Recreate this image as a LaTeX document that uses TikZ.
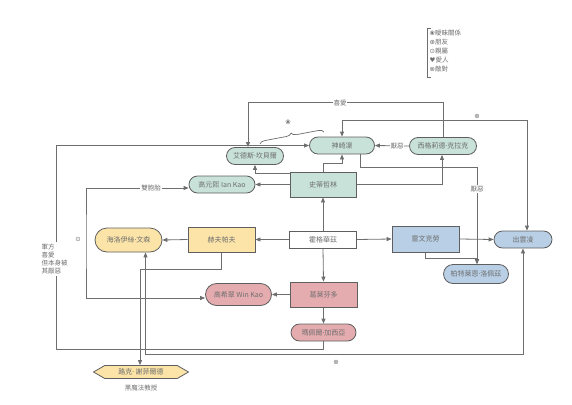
\documentclass[tikz,border=0pt]{standalone}
\usepackage{fontspec}
\setmainfont{Noto Sans CJK TC}
\newfontfamily\symf{DejaVu Sans}
\usetikzlibrary{shapes.misc,shapes.symbols,arrows.meta,backgrounds,decorations.pathreplacing}
\definecolor{cTeal}{RGB}{200,226,217}
\definecolor{cYel}{RGB}{252,228,168}
\definecolor{cBlu}{RGB}{184,207,229}
\definecolor{cPnk}{RGB}{229,172,176}
\definecolor{bd}{RGB}{95,95,95}
\definecolor{lc}{RGB}{110,110,110}
\definecolor{tx}{RGB}{110,110,110}
\newcommand\nfont{\fontsize{7pt}{8pt}\selectfont}
\newcommand\lfont{\fontsize{6.5pt}{8pt}\selectfont}
\newcommand\mdot{{\symf\kern-0.3pt·\kern-0.3pt}}
\begin{document}
\begin{tikzpicture}[x=1pt,y=-1pt,
 ln/.style={draw=lc,line width=0.8pt},
 arr/.style={ln,-{Triangle[length=5pt,width=4pt]}},
 arr2/.style={ln,{Triangle[length=5pt,width=4pt]}-{Triangle[length=5pt,width=4pt]}},
 nd/.style={draw=bd,line width=0.8pt,text=tx,font=\nfont,inner sep=1pt},
 box/.style={nd,rectangle},
 pill/.style={nd,rounded rectangle},
 lbl/.style={fill=white,text=tx,font=\lfont,inner sep=0.8pt},
 free/.style={text=tx,font=\lfont,inner sep=0.5pt}]
\useasboundingbox (0,0) rectangle (572,404);
% houses
\node[box,fill=cTeal,minimum width=66pt,minimum height=25pt] (sl) at (323,184.5) {史蒂哲林};
\node[box,fill=white,minimum width=67pt,minimum height=17pt] (hw) at (323,239.5) {霍格華茲};
\node[box,fill=cYel,minimum width=67pt,minimum height=25pt] (hf) at (221.5,239.5) {赫夫帕夫};
\node[box,fill=cBlu,minimum width=67pt,minimum height=26pt] (rc) at (425.5,239) {雷文克勞};
\node[box,fill=cPnk,minimum width=67pt,minimum height=25pt] (gr) at (323.5,294.5) {葛萊芬多};
% people
\node[pill,fill=cTeal,minimum width=67pt,minimum height=17pt] (kz) at (342,145.5) {神崎凜};
\node[pill,fill=cTeal,minimum width=59pt,minimum height=17pt] (ed) at (255,156) {艾德斯\mdot 坎貝爾};
\node[pill,fill=cTeal,minimum width=69pt,minimum height=17pt] (sg) at (443,146) {西格莉德\mdot 克拉克};
\node[pill,fill=cTeal,minimum width=68pt,minimum height=17pt] (ik) at (222,184.5) {高元熙 Ian Kao};
\node[pill,fill=cYel,minimum width=69pt,minimum height=24pt] (hl) at (128.5,240) {海洛伊絲\mdot 文森};
\node[pill,fill=cBlu,minimum width=60pt,minimum height=17pt] (iz) at (523,239.5) {出雲凌};
\node[pill,fill=cBlu,minimum width=67pt,minimum height=19pt] (bt) at (476,274) {柏特萊恩\mdot 洛佩茲};
\node[pill,fill=cPnk,minimum width=68pt,minimum height=22pt] (wk) at (238.5,294.5) {高希翠 Win Kao};
\node[pill,fill=cPnk,minimum width=67pt,minimum height=17pt] (mp) at (323.5,332.5) {瑪佩爾\mdot 加西亞};
\node[nd,signal,signal to=west and east,signal pointer angle=60,fill=cYel,minimum width=95pt,minimum height=13pt,inner sep=0.5pt] (lk) at (141,372) {路克\mdot\ 謝菲爾德};
\node[free] (lkl) at (141,388) {黑魔法教授};
% corner coordinates
\coordinate (lft) at (56,145.5);
\coordinate (twc) at (86,240);
\begin{scope}[on background layer]
\draw[arr] (hw.north) -- (sl.south);
\draw[arr] (hw.south) -- (gr.north);
\draw[arr] (hw.east) -- (rc.west);
\draw[arr] (hw.west) -- (hf.east);
\draw[arr] (sl.west) -- (ik.east);
\draw[arr] (hf.west) -- (hl.east);
\draw[arr] (rc.east) -- (iz.west);
\draw[arr] (gr.west) -- (wk.east);
\draw[arr] (gr.south) -- (mp.north);
\draw[arr] (sl.north) -- ++(0,-8) -| (kz.south);
\draw[arr] ([yshift=-1.5pt]sl.north west) -| (ed.south);
\draw[arr] (sg.west) -- (kz.east);
\draw[arr] (sg.north) -- ++(0,-34.5) -| ([xshift=-7pt]ed.north);
\draw[arr2] (kz.north) -- ++(0,-16.5) -| ([xshift=4pt]iz.north);
\draw[arr] ([xshift=18pt]kz.south) -- ++(0,13) -| ([xshift=1pt]bt.north);
\draw[arr] (rc.south) -- ++(0,6) -| ([xshift=1pt]bt.north);
\draw[arr] (sl.east) -| ([xshift=-1pt]sg.south);
\draw[arr] (mp.south) -- ++(0,7.5) -| (lft) -- (kz.west);
\draw[arr2] ([xshift=17pt]hl.south) -- ++(0,102) -| (iz.south);
\draw[arr] (hf.south) -- ++(0,17) -| ([xshift=-1pt]lk.north);
\draw[arr2] ([yshift=-3.5pt]ik.west) -| (twc) |- ([yshift=-3.5pt]wk.west);
\end{scope}
% edge labels
\node[lbl] (l1) at (397,146) {厭惡};
\node[lbl] (l2) at (340,103) {喜愛};
\node[lbl] (l3) at (477,189) {厭惡};
\node[lbl] (l4) at (151,188) {雙胞胎};
\node[lbl,align=left,anchor=west,inner sep=1.5pt] (l5) at (40,259) {軍方\\喜愛\\但本身被\\其厭惡};
\node[free] (s1) at (78,239) {\symf ⊙};
\node[free] (s2) at (477,116) {\symf ⊕};
\node[free] (s3) at (336,362) {\symf ⊕};
\draw[ln,line width=0.7pt,decorate,decoration={brace,amplitude=5pt}] (260,144) -- (324,132);
\node[free] (s4) at (288,122) {\symf ❀};
% legend
\draw[ln,line width=0.7pt] (431,28) -- (427,28) -- (427,77) -- (431,77);
\node[free,anchor=west] (g1) at (429,33) {{\symf ❀}曖昧關係};
\node[free,anchor=west] (g2) at (429,42) {{\symf ⊕}朋友};
\node[free,anchor=west] (g3) at (429,51) {{\symf ⊙}親屬};
\node[free,anchor=west] (g4) at (429,60) {{\symf ♥}愛人};
\node[free,anchor=west] (g5) at (429,69) {{\symf ⊗}敵對};
\end{tikzpicture}
\end{document}
